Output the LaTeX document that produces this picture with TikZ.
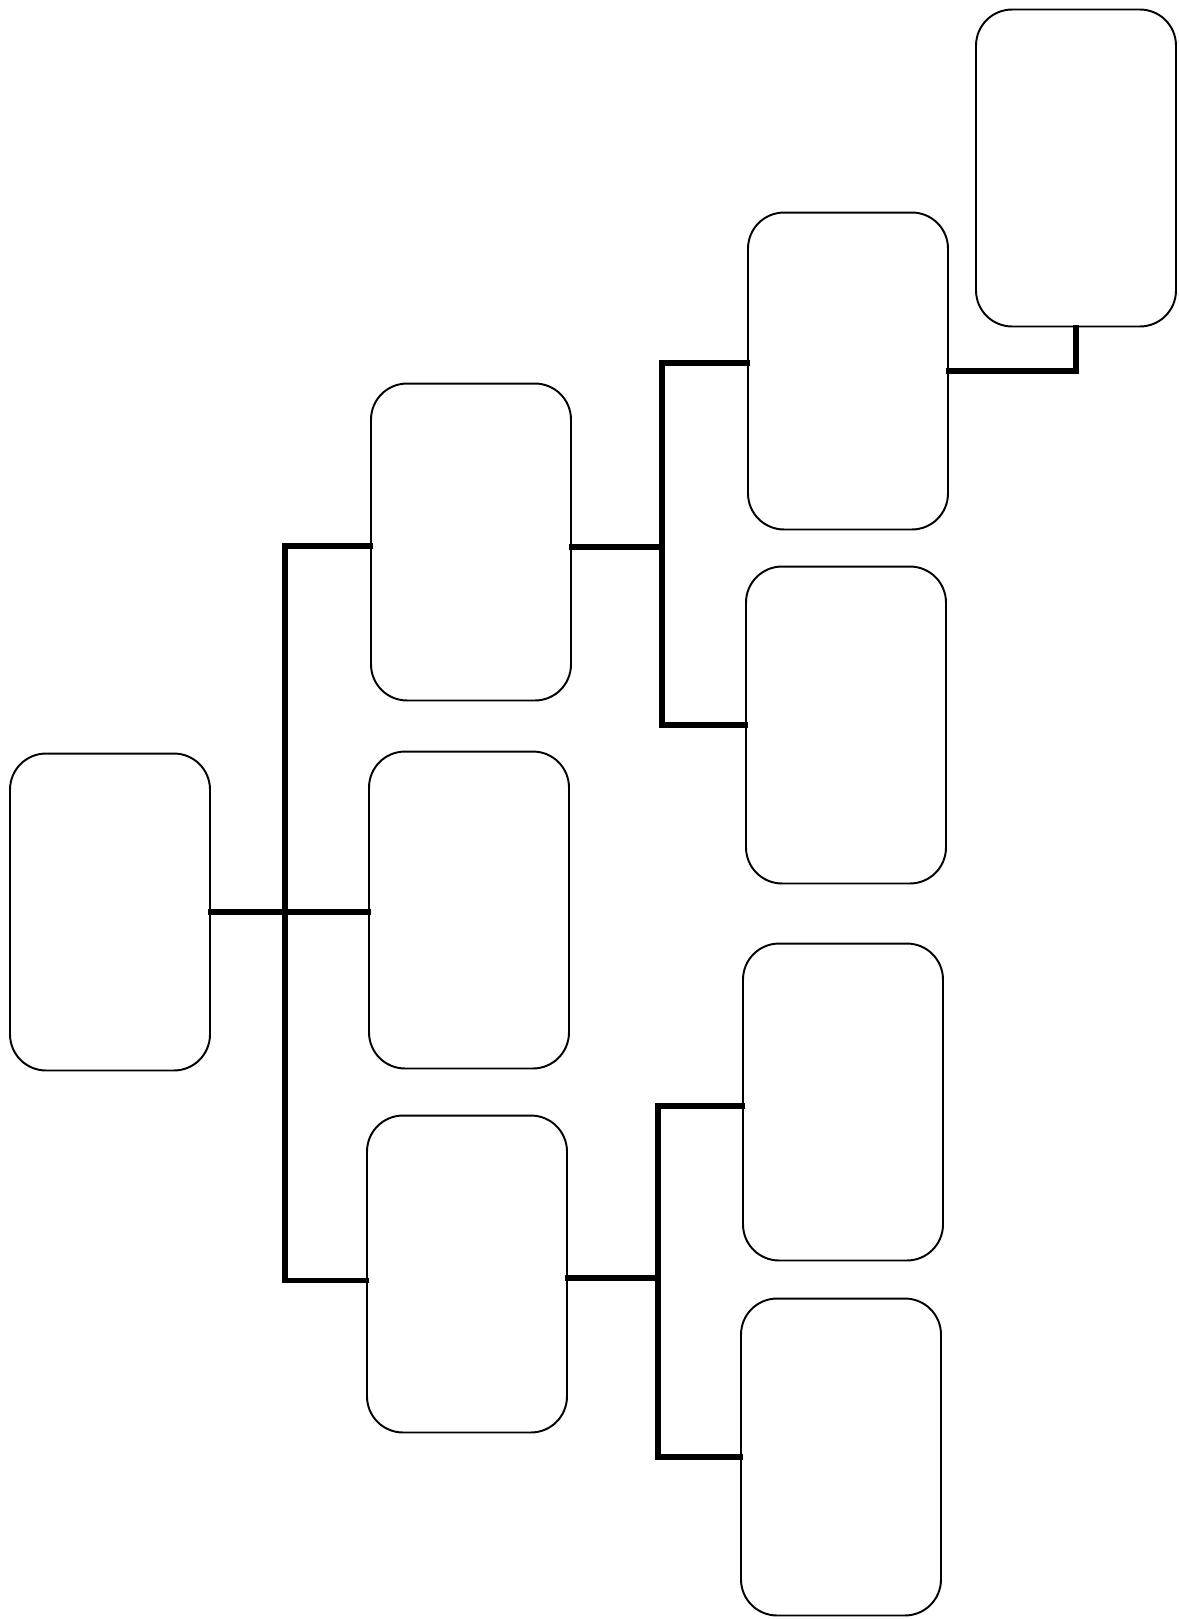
\documentclass[tikz,border=0pt]{standalone}
\usepackage{tikz}
\usetikzlibrary{positioning,calc}
\tikzset{
  caja/.style={rectangle, rounded corners=0.72cm, draw=black, fill=white,
    line width=1.1pt, minimum width=4cm, minimum height=6.34cm, inner sep=0pt},
  enlace/.style={line width=3.3pt, draw=black, line cap=rect},
}

\begin{document}
\begin{tikzpicture}[x=0.02cm, y=-0.02cm]
  \useasboundingbox (0,0) rectangle (1179,1619);
  % cajas
  \node[caja] (raiz) at (110,912) {};
  \node[caja] (m1) at (471,542) {};
  \node[caja] (m2) at (469,910) {};
  \node[caja] (m3) at (467,1274) {};
  \node[caja] (d1) at (848,371) {};
  \node[caja] (d2) at (846,725) {};
  \node[caja] (d3) at (843,1102) {};
  \node[caja] (d4) at (841,1457) {};
  \node[caja] (sup) at (1076,168) {};
  % ejes de las ramas
  \coordinate (e1) at (285,0);
  \coordinate (e2) at (662,0);
  \coordinate (e3) at (658,0);
  % conexiones
  \draw[enlace] (raiz.east) -- (raiz.east -| m2.west);
  \draw[enlace] ([yshift=-0.08cm]m1.west) -- ([yshift=-0.08cm]m1.west -| e1)
    -- ([yshift=-0.13cm]m3.west -| e1) -- ([yshift=-0.13cm]m3.west);
  \draw[enlace] ([yshift=-0.1cm]m1.east) -- ([yshift=-0.1cm]m1.east -| e2);
  \draw[enlace] ([yshift=0.16cm]d1.west) -- ([yshift=0.16cm]d1.west -| e2) -- (d2.west -| e2) -- (d2.west);
  \draw[enlace] ([yshift=-0.08cm]m3.east) -- ([yshift=-0.08cm]m3.east -| e3);
  \draw[enlace] ([yshift=-0.08cm]d3.west) -- ([yshift=-0.08cm]d3.west -| e3) -- (d4.west -| e3) -- (d4.west);
  \draw[enlace] (d1.east) -| (sup.south);
\end{tikzpicture}
\end{document}
